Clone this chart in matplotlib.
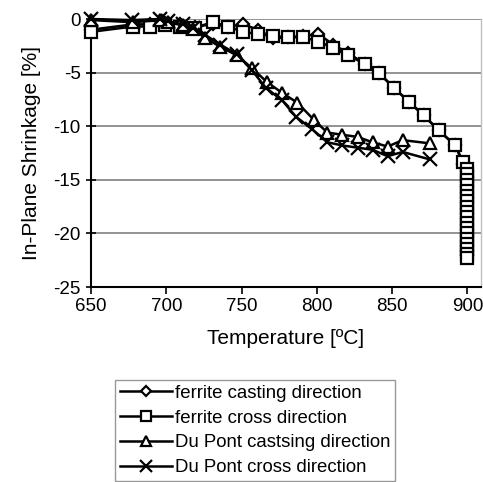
import matplotlib
matplotlib.use("Agg")
import matplotlib.pyplot as plt

plt.rcParams['font.family'] = ['Liberation Sans', 'DejaVu Sans']

# Ferrite casting direction (diamond)
fc_T = [650, 678, 689, 699, 709, 719, 731, 741, 751, 761, 771, 781, 791, 801, 811, 821, 832, 841, 851, 861, 871, 881, 892, 897,
        900, 900, 900, 900, 900, 900, 900, 900, 900, 900, 900, 900, 900, 900, 900, 900, 900]
fc_S = [-1.0, -0.5, -0.5, -0.4, -0.5, -0.7, -0.5, -0.7, -0.5, -1.0, -1.8, -1.7, -1.6, -1.4, -2.4, -3.2, -4.2, -5.0, -6.4, -7.7, -9.0, -10.4, -11.8, -13.5,
        -14.2, -14.7, -15.2, -15.7, -16.2, -16.7, -17.2, -17.7, -18.2, -18.7, -19.2, -19.7, -20.2, -20.7, -21.2, -21.6, -22.0]

# Ferrite cross direction (square)
fx_T = [650, 678, 689, 699, 709, 719, 731, 741, 751, 761, 771, 781, 791, 801, 811, 821, 832, 841, 851, 861, 871, 881, 892, 897,
        900, 900, 900, 900, 900, 900, 900, 900, 900, 900, 900, 900, 900, 900, 900, 900, 900, 900]
fx_S = [-1.2, -0.7, -0.7, -0.6, -0.7, -0.8, -0.3, -0.7, -1.2, -1.4, -1.6, -1.7, -1.7, -2.1, -2.7, -3.4, -4.2, -5.0, -6.4, -7.7, -9.0, -10.4, -11.8, -13.3,
        -14.0, -14.5, -15.0, -15.5, -16.0, -16.5, -17.0, -17.5, -18.0, -18.5, -19.0, -19.5, -20.0, -20.5, -21.0, -21.5, -21.9, -22.3]

# Du Pont casting direction (triangle)
dc_T = [650, 678, 696, 701, 711, 718, 726, 736, 747, 757, 767, 777, 787, 798, 807, 817, 827, 837, 847, 857, 875]
dc_S = [-0.1, -0.3, -0.1, -0.3, -0.6, -0.9, -1.8, -2.6, -3.4, -4.6, -5.9, -6.9, -7.8, -9.4, -10.6, -10.8, -11.0, -11.5, -11.9, -11.3, -11.6]

# Du Pont cross direction (x)
dx_T = [650, 677, 696, 701, 711, 718, 726, 736, 747, 757, 766, 777, 786, 797, 807, 817, 827, 837, 847, 857, 875]
dx_S = [0.0, -0.1, 0.0, -0.2, -0.5, -0.8, -1.5, -2.4, -3.3, -4.8, -6.4, -7.6, -9.1, -10.3, -11.5, -11.8, -12.0, -12.2, -12.8, -12.4, -13.1]

labels = ["ferrite casting direction", "ferrite cross direction",
          "Du Pont castsing direction", "Du Pont cross direction"]

x_ticks = [650, 700, 750, 800, 850, 900]
y_ticks = [0, -5, -10, -15, -20, -25]

fig = plt.figure(figsize=(4.83, 4.82), dpi=100)
ax = fig.add_axes([91/483, 1-287/482, (481-91)/483, (287-19)/482])

common = dict(color='black', lw=1.8, mfc='white', mec='black', mew=1.6, clip_on=False, zorder=3)
h1, = ax.plot(fc_T, fc_S, marker='D', ms=6.5, label=labels[0], **common)
h2, = ax.plot(fx_T, fx_S, marker='s', ms=8, label=labels[1], **common)
h3, = ax.plot(dc_T, dc_S, marker='^', ms=8.5, label=labels[2], **common)
h4, = ax.plot(dx_T, dx_S, marker='x', ms=9.5, label=labels[3], **common)

ax.set_xlim(650, 909)
ax.set_ylim(-25, 0)
ax.set_xticks(x_ticks)
ax.set_yticks(y_ticks)
ax.set_yticklabels([str(v) for v in y_ticks])
ax.yaxis.grid(True, color='#808080', lw=1.2)
ax.set_axisbelow(True)
ax.tick_params(axis='y', direction='inout', length=7, width=1.2, labelsize=13.5, pad=4)
ax.tick_params(axis='x', direction='out', length=5, width=1.2, labelsize=13.5, pad=3)
for s in ['left', 'bottom']:
    ax.spines[s].set_linewidth(1.5)
ax.spines['top'].set_visible(False)
ax.spines['right'].set_color('#c0c0c0')
ax.spines['right'].set_linewidth(1)

ax.set_xlabel("Temperature [ºC]", fontsize=15, labelpad=10)
ax.set_ylabel("In-Plane Shrinkage [%]", fontsize=15, labelpad=9)

leg = fig.legend(handles=[h1, h2, h3, h4], loc='upper left',
                 bbox_to_anchor=(115/483, 1-380/482), fontsize=13.4,
                 frameon=True, fancybox=False, edgecolor='#808080',
                 markerscale=0.85, handlelength=2.8, handletextpad=0.15,
                 labelspacing=0.42, borderpad=0.25, borderaxespad=0)
leg.get_frame().set_linewidth(1)

fig.savefig("out.png", dpi=100)
